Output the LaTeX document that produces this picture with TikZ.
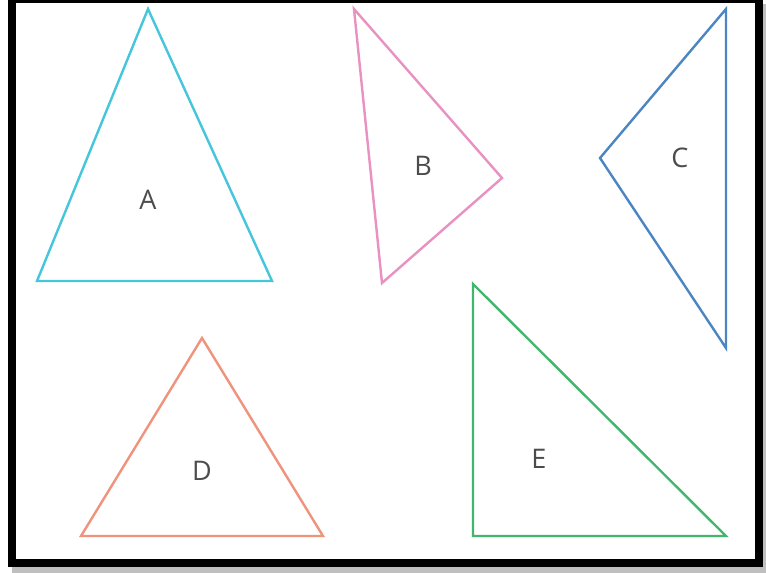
\documentclass[tikz,border=0pt]{standalone}
\usepackage{fontspec}
\setmainfont{Open Sans}
\definecolor{triA}{HTML}{45C6DA}
\definecolor{triB}{HTML}{E991C3}
\definecolor{triC}{HTML}{4B86C2}
\definecolor{triD}{HTML}{F0937C}
\definecolor{triE}{HTML}{41B66E}
\tikzset{
  tri/.style={line width=2.4pt, line join=miter},
  lbl/.style={font=\fontsize{27}{27}\selectfont, text=black!70, inner sep=0pt}
}
\begin{document}
\begin{tikzpicture}[x=1pt,y=-1pt]
		% Canvas and frame
		\useasboundingbox (0,0) rectangle (766,573);
		\fill[black!25] (12,567) rectangle (766,573);
		\fill[black!25] (762,4) rectangle (766,567);
		\fill[black] (8,-2) rectangle (763,567);
		\fill[white] (16,3) rectangle (755,559);

		% Triangles
		\draw[tri, triA] (148,9) -- (272,281) -- (37,281) -- cycle;
		\draw[tri, triB] (354,9) -- (502,178) -- (382,283) -- cycle;
		\draw[tri, triC] (726,9) -- (726,348) -- (600,158) -- cycle;
		\draw[tri, triD] (202,338) -- (323,536) -- (81,536) -- cycle;
		\draw[tri, triE] (473,284) -- (726,536) -- (473,536) -- cycle;

		% Labels
		\node[lbl] (labelA) at (148,200) {A};
		\node[lbl] (labelB) at (423,166) {B};
		\node[lbl] (labelC) at (680,158) {C};
		\node[lbl] (labelD) at (202,471) {D};
		\node[lbl] (labelE) at (539,459) {E};
	\end{tikzpicture}
\end{document}
